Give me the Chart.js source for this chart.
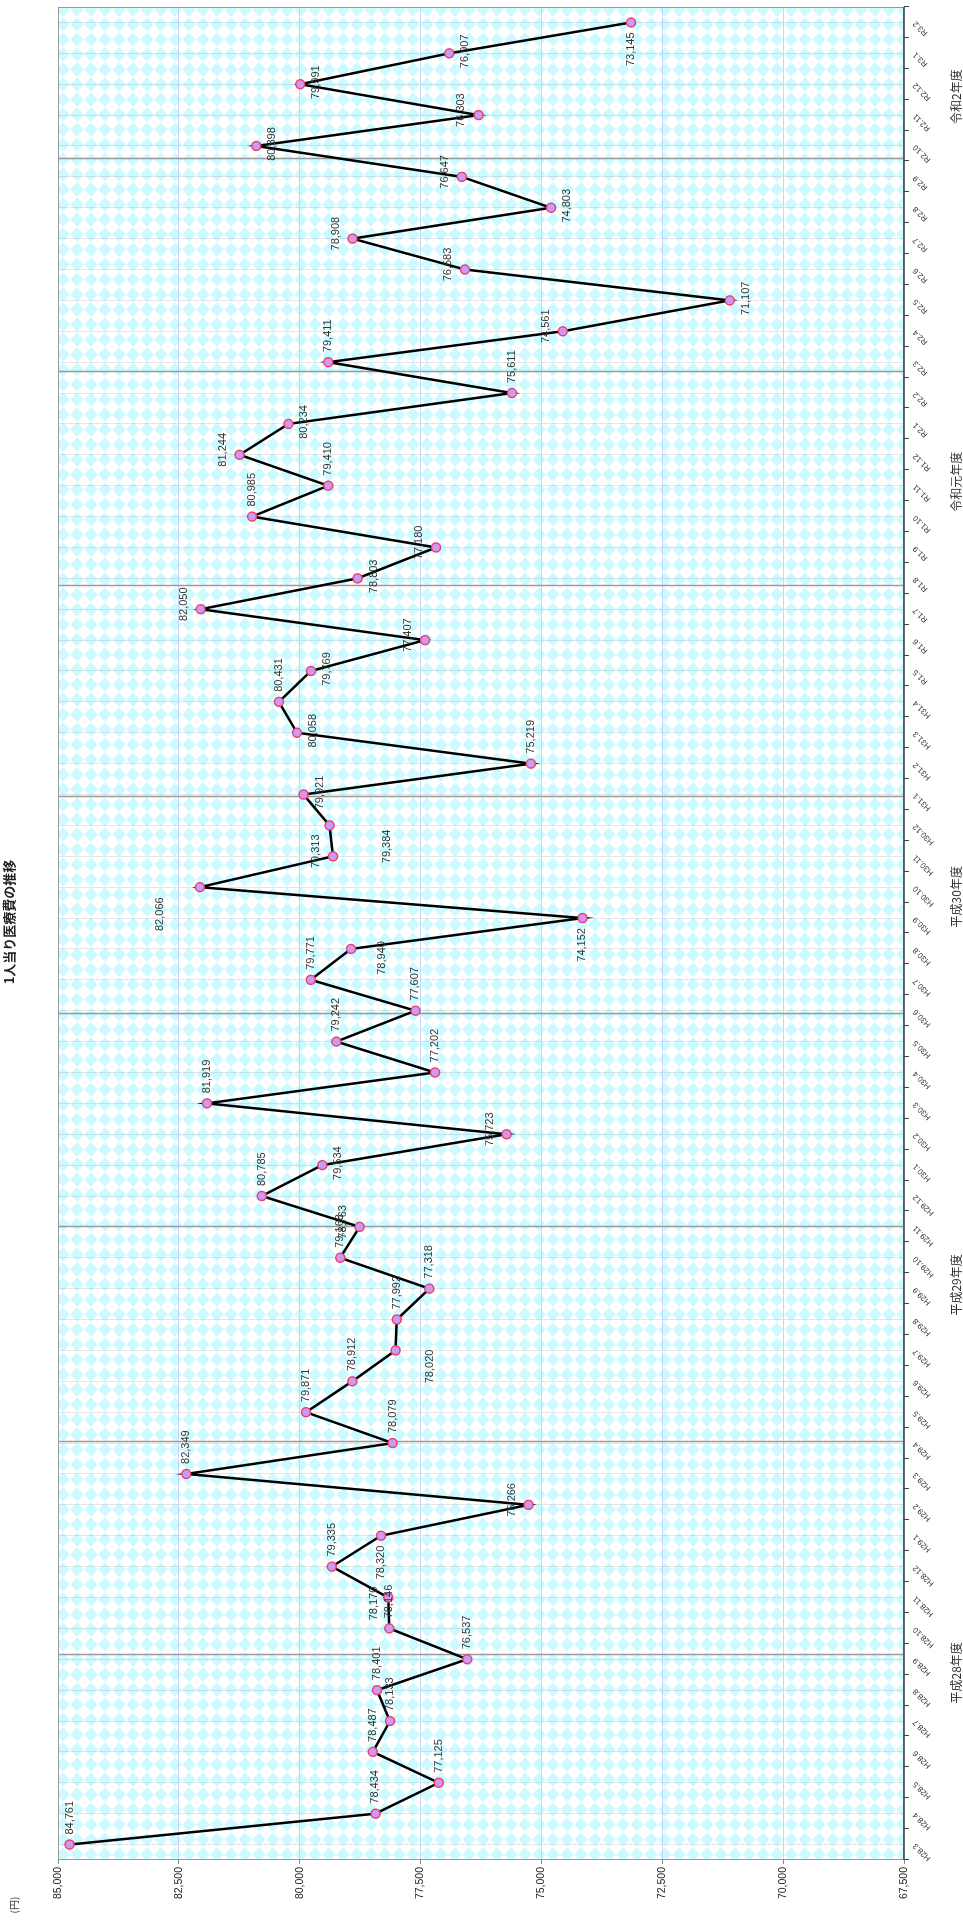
<!DOCTYPE html>
<html><head><meta charset="utf-8">
<script src="https://cdn.jsdelivr.net/npm/chart.js@4.4.0/dist/chart.umd.min.js"></script>
<style>
html,body{margin:0;padding:0;background:#fff;overflow:hidden;width:963px;height:1922px;}
#wrap{position:absolute;left:0;top:0;width:1922px;height:963px;transform-origin:0 0;transform:translate(0,1922px) rotate(-90deg);}
canvas{display:block;}
</style></head><body>
<div id="wrap"><canvas id="c" width="1922" height="963" style="width:1922px;height:963px"></canvas></div>
<script>
const categories = [
 'H28.3','H28.4','H28.5','H28.6','H28.7','H28.8','H28.9','H28.10','H28.11','H28.12',
 'H29.1','H29.2','H29.3','H29.4','H29.5','H29.6','H29.7','H29.8','H29.9','H29.10','H29.11','H29.12',
 'H30.1','H30.2','H30.3','H30.4','H30.5','H30.6','H30.7','H30.8','H30.9','H30.10','H30.11','H30.12',
 'H31.1','H31.2','H31.3','H31.4','R1.5','R1.6','R1.7','R1.8','R1.9','R1.10','R1.11','R1.12',
 'R2.1','R2.2','R2.3','R2.4','R2.5','R2.6','R2.7','R2.8','R2.9','R2.10','R2.11','R2.12',
 'R3.1','R3.2'];
const values = [
 84761, 78434, 77125, 78487, 78133, 78401, 76537, 78146, 78170, 79335,
 78320, 75266, 82349, 78079, 79871, 78912, 78020, 77992, 77318, 79163,
 78763, 80785, 79534, 75723, 81919, 77202, 79242, 77607, 79771, 78940,
 74152, 82066, 79313, 79384, 79921, 75219, 80058, 80431, 79769, 77407,
 82050, 78803, 77180, 80985, 79410, 81244, 80234, 75611, 79411, 74561,
 71107, 76583, 78908, 74803, 76647, 80898, 76303, 79991, 76907, 73145];
const valueTicks = [85000, 82500, 80000, 77500, 75000, 72500, 70000, 67500];
const fiscalYears = ['平成28年度','平成29年度','平成30年度','令和元年度','令和2年度'];
const titleText = '1人当り医療費の推移';
const unitText = '(円)';

const deco = {
  separators: [6.14, 13.04, 20.0, 26.9, 33.92, 40.76, 47.69, 54.58],
  yearPos: [5.56, 18.12, 30.69, 44.13, 56.6],
  place: ['r','r','r','r','r','r','r','r',[-6,-14,'center'],'r',
          'l','a','r','r','r','r',[-16,35,'center'],'r','r','r',
          'a','r','b','a','r','r','r','r','r',[-9,31,'center'],
          'l',[-27,-40,'center'],'a',[-21,57,'center'],'b','r','b','r','b','a',
          'a','b','a','r','r','a','b','r','r','a',
          'b','a','a','b','a','b','a','b','b','l']
};

const FONT = '"Liberation Sans Narrow","Liberation Sans",Arial,sans-serif';
const JP = '"Noto Sans CJK JP","Noto Sans CJK SC",sans-serif';

function makePattern(ctx){
  const t = document.createElement('canvas');
  t.width = 15; t.height = 14;
  const g = t.getContext('2d');
  g.fillStyle = '#ffffff'; g.fillRect(0,0,15,14);
  g.fillStyle = '#ccfafe';
  g.beginPath(); g.moveTo(7.5,0.3); g.lineTo(14.7,7); g.lineTo(7.5,13.7); g.lineTo(0.3,7); g.closePath(); g.fill();
  return ctx.createPattern(t,'repeat');
}

const bgPlugin = {
  id:'bg',
  beforeDraw(chart){
    const {ctx, chartArea:a} = chart;
    ctx.save();
    ctx.fillStyle = '#fff'; ctx.fillRect(0,0,chart.width,chart.height);
    ctx.fillStyle = makePattern(ctx);
    ctx.fillRect(a.left,a.top,a.right-a.left,a.bottom-a.top);
    ctx.restore();
  }
};

const decoPlugin = {
  id:'deco',
  beforeDatasetsDraw(chart){
    const {ctx, chartArea:a, scales:{x}} = chart;
    ctx.save();
    ctx.strokeStyle = '#9a9a9a'; ctx.lineWidth = 1.5;
    deco.separators.forEach(p=>{
      const px = Math.round(x.getPixelForValue(p))+0.5;
      ctx.beginPath(); ctx.moveTo(px,a.top); ctx.lineTo(px,a.bottom); ctx.stroke();
    });
    ctx.strokeStyle = '#999'; ctx.lineWidth = 1;
    ctx.strokeRect(a.left+0.5,a.top+0.5,a.right-a.left-1,a.bottom-a.top-1);
    ctx.strokeStyle = '#444'; ctx.lineWidth = 1.5;
    ctx.beginPath(); ctx.moveTo(a.left,a.bottom); ctx.lineTo(a.right,a.bottom); ctx.stroke();
    ctx.lineWidth = 1; ctx.strokeStyle = '#444';
    const n = categories.length;
    for(let i=0;i<=n;i++){
      const px = Math.round(x.getPixelForValue(i-0.5))+0.5;
      ctx.beginPath(); ctx.moveTo(px,a.bottom); ctx.lineTo(px,a.bottom+5); ctx.stroke();
    }
    ctx.restore();
  },
  afterDatasetsDraw(chart){
    const {ctx, chartArea:a, scales:{x}} = chart;
    const meta = chart.getDatasetMeta(0);
    ctx.save();
    ctx.font = '11px '+FONT; ctx.fillStyle = '#333'; ctx.textBaseline = 'middle';
    meta.data.forEach((pt,i)=>{
      const txt = values[i].toLocaleString('en-US');
      let p = deco.place[i], dx=10, dy=0, al='left';
      if(p==='l'){dx=-10; al='right';}
      else if(p==='a'){dx=5; dy=-17; al='center';}
      else if(p==='b'){dx=2; dy=16; al='center';}
      else if(Array.isArray(p)){dx=p[0]; dy=p[1]; al=p[2];}
      ctx.textAlign = al;
      ctx.fillText(txt, pt.x+dx, pt.y+dy);
    });
    ctx.font = '12px '+JP; ctx.fillStyle = '#333'; ctx.textAlign='center';
    fiscalYears.forEach((t,i)=>{
      ctx.fillText(t, x.getPixelForValue(deco.yearPos[i]), 956);
    });
    ctx.font = 'bold 13px '+JP; ctx.fillStyle='#222';
    ctx.fillText(titleText, 1000, 9);
    ctx.font = '10px '+JP; ctx.fillStyle='#333';
    ctx.fillText(unitText, 17, 14);
    ctx.restore();
  }
};

const ctx = document.getElementById('c').getContext('2d');
new Chart(ctx, {
  type:'line',
  data:{labels:categories, datasets:[{
    data:values, borderColor:'#000', borderWidth:2.5, tension:0,
    pointRadius:4.5, pointBackgroundColor:'#c89cf4', pointBorderColor:'#f23c6c', pointBorderWidth:1.5,
    clip:false
  }]},
  options:{
    responsive:false, animation:false, devicePixelRatio:1,
    layout:{padding:{top:58,right:7,left:0,bottom:0}},
    plugins:{legend:{display:false}, tooltip:{enabled:false}, title:{display:false}},
    scales:{
      x:{type:'category', offset:true,
         grid:{offset:false, color:'rgba(140,140,140,0.22)', drawTicks:false, lineWidth:1},
         border:{display:false},
         ticks:{autoSkip:false, maxRotation:45, minRotation:45, padding:7,
                font:{size:8, family:FONT}, color:'#333'},
         afterFit(s){ s.height = 59; }},
      y:{min:67500, max:85000,
         afterBuildTicks(s){ s.ticks = valueTicks.map(v=>({value:v})); },
         ticks:{callback:v=>Number(v).toLocaleString('en-US'), font:{size:10.5, family:FONT}, color:'#222', padding:3},
         grid:{color:'#c4d4fb', tickLength:4, tickColor:'#888', lineWidth:1},
         border:{display:false},
         afterFit(s){ s.width = 62; }}
    }
  },
  plugins:[bgPlugin, decoPlugin]
});
</script>
</body></html>
